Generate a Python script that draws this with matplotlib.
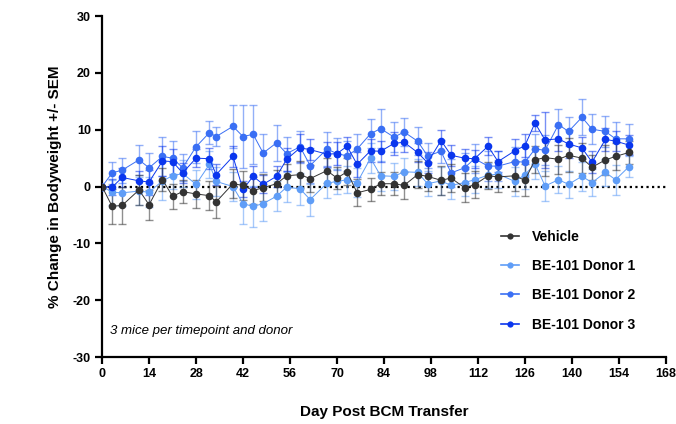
"""Bodyweight change after BCM transfer, vehicle vs BE-101 donors"""

import matplotlib
matplotlib.use("Agg")
import matplotlib.pyplot as plt
import numpy as np

plt.rcParams['font.family'] = ['Liberation Sans', 'DejaVu Sans']
plt.rcParams['axes.unicode_minus'] = False

days = [0, 3, 6, 11, 14, 18, 21, 24, 28, 32, 34, 39, 42, 45, 48, 52, 55, 59, 62, 67,
        70, 73, 76, 80, 83, 87, 90, 94, 97, 101, 104, 108, 111, 115, 118, 123, 126, 129,
        132, 136, 139, 143, 146, 150, 153, 157]

vehicle = [0, -3.5, -3.3, -0.6, -3.2, 1.2, -1.7, -0.9, -1.3, -1.6, -2.7, 0.5, 0.2, -0.7,
           -0.2, 0.5, 1.9, 2.1, 1.4, 2.8, 1.5, 2.6, -1.1, -0.5, 0.5, 0.5, 0.2, 2.1, 1.8,
           1.1, 1.5, -0.2, 0.3, 1.9, 1.7, 1.9, 1.1, 4.7, 5.1, 4.8, 5.5, 5.0, 3.4, 4.7,
           5.3, 6.0]
vehicle_sem = [0, 3.1, 3.3, 2.6, 2.6, 2.0, 2.2, 2.0, 2.4, 2.6, 2.8, 2.6, 2.6, 2.4, 2.4,
               2.4, 2.0, 2.4, 2.4, 2.2, 2.0, 2.4, 2.4, 2.0, 2.0, 2.0, 2.4, 2.4, 2.6, 2.6,
               2.4, 2.6, 2.4, 2.4, 2.6, 2.6, 2.8, 2.4, 3.2, 2.6, 3.0, 2.6, 2.2, 2.6, 2.4,
               2.0]

donor1 = [0, -1.0, -1.1, -0.8, -1.0, 1.0, 1.9, 2.3, 0.4, 3.9, 0.9, 0.0, -3.0, -3.5,
          -3.0, -1.7, -0.1, -0.4, -2.3, 0.6, 0.9, 1.2, 0.7, 5.0, 1.9, 1.8, 2.6, 2.5,
          0.5, 1.0, 0.2, 0.7, 1.2, 2.0, 2.2, 0.9, 2.1, 4.0, 0.1, 1.2, 0.4, 1.8, 0.7,
          2.5, 1.2, 3.5]
donor1_sem = [0, 2.2, 2.4, 2.4, 2.6, 3.4, 2.4, 2.4, 2.6, 2.4, 2.6, 2.6, 3.6, 3.6, 3.0,
              2.6, 2.6, 2.8, 2.8, 2.6, 2.2, 2.4, 2.6, 2.6, 2.6, 2.4, 2.4, 2.4, 2.2, 2.4,
              2.4, 2.4, 2.4, 2.2, 2.4, 2.6, 2.6, 2.6, 2.6, 2.4, 2.4, 2.6, 2.4, 2.4, 2.6,
              1.8]

donor2 = [0, 2.4, 2.9, 4.7, 3.3, 5.3, 5.0, 3.3, 7.0, 9.5, 8.8, 10.6, 8.8, 9.2, 5.9, 7.7,
          5.8, 7.0, 3.7, 6.6, 5.8, 5.4, 6.6, 9.3, 10.2, 8.7, 9.6, 8.0, 5.4, 6.2, 2.4,
          3.3, 4.9, 3.6, 3.6, 4.4, 4.3, 6.6, 6.4, 10.9, 9.7, 12.2, 10.1, 9.7, 8.4, 8.4]
donor2_sem = [0, 2.0, 2.2, 2.6, 2.6, 3.4, 3.0, 2.4, 2.8, 2.0, 1.6, 3.8, 5.6, 5.2, 3.4,
              3.2, 3.0, 2.8, 3.0, 3.0, 2.8, 2.6, 2.6, 2.6, 3.4, 2.6, 2.4, 2.4, 2.2, 2.0,
              2.4, 2.6, 2.6, 2.6, 2.6, 2.6, 2.6, 2.6, 2.6, 2.8, 2.6, 3.2, 2.6, 2.8, 3.0,
              2.6]

donor3 = [0, -0.1, 1.6, 1.0, 0.8, 4.5, 4.4, 2.4, 5.0, 4.9, 2.1, 5.3, -0.5, 1.8, 0.4,
          1.8, 4.8, 6.8, 6.5, 5.7, 5.8, 7.1, 3.9, 6.3, 6.2, 7.6, 7.8, 6.0, 4.2, 8.1, 5.5,
          5.0, 4.9, 7.1, 4.4, 6.3, 7.2, 11.2, 8.2, 8.4, 7.5, 6.8, 4.3, 8.3, 8.0, 7.3]
donor3_sem = [0, 1.4, 1.6, 1.8, 2.2, 2.6, 2.2, 1.8, 1.6, 1.8, 1.8, 1.8, 1.4, 1.8, 1.6,
              1.8, 2.0, 2.4, 1.8, 2.2, 2.0, 1.6, 2.2, 2.0, 1.8, 2.0, 1.8, 1.6, 1.8, 1.8,
              1.8, 1.6, 1.6, 1.6, 1.8, 2.0, 2.0, 1.4, 5.0, 2.2, 2.4, 2.0, 2.0, 2.0, 1.8,
              1.8]

series = [
    ("BE-101 Donor 1", donor1, donor1_sem, "#5f9df7"),
    ("BE-101 Donor 2", donor2, donor2_sem, "#3a6ff4"),
    ("BE-101 Donor 3", donor3, donor3_sem, "#0a36ee"),
    ("Vehicle", vehicle, vehicle_sem, "#333333"),
]

fig = plt.figure(figsize=(6.76, 4.24), dpi=100)
ax = fig.add_axes([0.151, 0.158, 0.834, 0.804])

ax.plot([0, 168], [0, 0], color="black", lw=1.6, ls=(0, (1, 1.5)), zorder=1)

handles = {}
for i, (name, vals, sem, col) in enumerate(series):
    ax.errorbar(days, vals, yerr=sem, fmt="none", ecolor=col, alpha=0.55,
                elinewidth=1.0, capsize=3, capthick=1.0, zorder=2 + i)
    h, = ax.plot(days, vals, color=col, lw=0.7, marker="o", markersize=5.5,
                 markeredgewidth=0, zorder=6 + i)
    handles[name] = h

order = ["Vehicle", "BE-101 Donor 1", "BE-101 Donor 2", "BE-101 Donor 3"]
leg = ax.legend([handles[n] for n in order], order, frameon=False,
                loc="upper left", bbox_to_anchor=(0.686, 0.41),
                handlelength=1.3, handletextpad=0.9, labelspacing=1.1,
                prop={"size": 10, "weight": "bold"})
for h in leg.legend_handles:
    h.set_markersize(4.5)
    h.set_linewidth(1.2)

ax.text(2.5, -25.5, "3 mice per timepoint and donor", fontsize=9.5,
        style="italic", va="center", ha="left")

ax.set_xlim(0, 168)
ax.set_ylim(-30, 30)
ax.set_xticks(np.arange(0, 169, 14))
ax.set_yticks(np.arange(-30, 31, 10))
for s in ["top", "right"]:
    ax.spines[s].set_visible(False)
for s in ["left", "bottom"]:
    ax.spines[s].set_linewidth(1.6)
ax.tick_params(width=1.6, length=5, labelsize=9, pad=3)
for lab in ax.get_xticklabels() + ax.get_yticklabels():
    lab.set_fontweight("bold")

ax.set_xlabel("Day Post BCM Transfer", fontsize=11, fontweight="bold", labelpad=18)
ax.set_ylabel("% Change in Bodyweight +/- SEM", fontsize=11, fontweight="bold",
              labelpad=8)

fig.savefig("out.png", dpi=100)
